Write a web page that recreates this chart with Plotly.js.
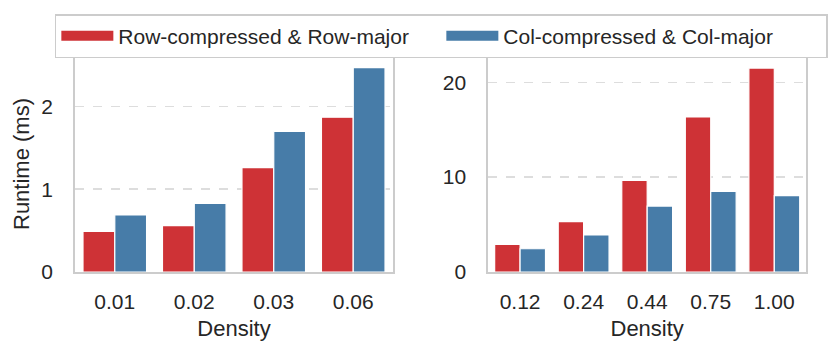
<!DOCTYPE html>
<html>
<head>
<meta charset="utf-8">
<script src="https://cdn.plot.ly/plotly-3.0.1.min.js"></script>
<style>
  html, body { margin: 0; padding: 0; background: #fff; }
  #chart { width: 831px; height: 355px; }
</style>
</head>
<body>
<div id="chart"></div>
<script>
// values
const leftDensity = ['0.01', '0.02', '0.03', '0.06'];
const leftRowMajor = [0.49, 0.56, 1.26, 1.87];
const leftColMajor = [0.69, 0.83, 1.70, 2.47];

const rightDensity = ['0.12', '0.24', '0.44', '0.75', '1.00'];
const rightRowMajor = [2.9, 5.3, 9.65, 16.35, 21.5];
const rightColMajor = [2.45, 3.9, 6.95, 8.5, 8.05];

const seriesNames = ['Row-compressed & Row-major', 'Col-compressed & Col-major'];
const RED = '#ce3236';
const BLUE = '#477ca8';

function bar(x, y, color, xa, ya) {
  return {
    x: x,
    y: y,
    type: 'bar',
    xaxis: xa,
    yaxis: ya,
    showlegend: false,
    marker: { color: color, line: { color: '#ffffff', width: 1.2 } },
    hoverinfo: 'x+y'
  };
}

// legend-only entries so the swatch is a wide rectangle like the original
function legendEntry(name, color) {
  return {
    x: [null],
    y: [null],
    type: 'scatter',
    mode: 'lines',
    name: name,
    line: { color: color, width: 15 },
    hoverinfo: 'skip'
  };
}

const traces = [
  bar(leftDensity, leftRowMajor, RED, 'x', 'y'),
  bar(leftDensity, leftColMajor, BLUE, 'x', 'y'),
  bar(rightDensity, rightRowMajor, RED, 'x2', 'y2'),
  bar(rightDensity, rightColMajor, BLUE, 'x2', 'y2'),
  legendEntry(seriesNames[0], RED),
  legendEntry(seriesNames[1], BLUE)
];

const fontFamily = 'Liberation Sans, Arial, sans-serif';
const tickFont = { family: fontFamily, size: 21, color: '#262626' };
const titleFont = { family: fontFamily, size: 22, color: '#262626' };

const xBase = {
  type: 'category',
  showline: true,
  mirror: true,
  linecolor: '#cccccc',
  linewidth: 2,
  showgrid: false,
  ticks: '',
  tickfont: tickFont,
  ticklabelstandoff: 10
};

const yBase = {
  showline: true,
  mirror: true,
  linecolor: '#cccccc',
  linewidth: 2,
  showgrid: true,
  gridcolor: '#dddddd',
  gridwidth: 1.5,
  griddash: 'dash',
  zeroline: false,
  ticks: '',
  tickfont: tickFont,
  ticklabelstandoff: 16
};

const layout = {
  width: 831,
  height: 355,
  margin: { l: 0, r: 0, t: 56, b: 83 },
  paper_bgcolor: '#ffffff',
  plot_bgcolor: '#ffffff',
  barmode: 'group',
  bargap: 0.2,
  bargroupgap: 0,
  font: { family: fontFamily, color: '#262626' },
  xaxis: Object.assign({}, xBase, {
    domain: [0.0903, 0.4729],
    anchor: 'y',
    title: { text: 'Density', font: titleFont, standoff: 8 }
  }),
  yaxis: Object.assign({}, yBase, {
    domain: [0, 1],
    anchor: 'x',
    range: [0, 2.61],
    dtick: 1,
    title: { text: 'Runtime (ms)', font: titleFont, standoff: 5 }
  }),
  xaxis2: Object.assign({}, xBase, {
    domain: [0.5876, 0.970],
    anchor: 'y2',
    title: { text: 'Density', font: titleFont, standoff: 8 }
  }),
  yaxis2: Object.assign({}, yBase, {
    domain: [0, 1],
    anchor: 'x2',
    range: [0, 22.77],
    dtick: 10
  }),
  legend: {
    orientation: 'h',
    x: 0.066,
    xanchor: 'left',
    y: 1.194,
    yanchor: 'top',
    bordercolor: '#cccccc',
    borderwidth: 1.5,
    bgcolor: '#ffffff',
    font: { family: fontFamily, size: 21, color: '#262626' },
    entrywidth: 318,
    itemwidth: 52
  }
};

Plotly.newPlot('chart', traces, layout, { displayModeBar: false, staticPlot: true });
</script>
</body>
</html>
